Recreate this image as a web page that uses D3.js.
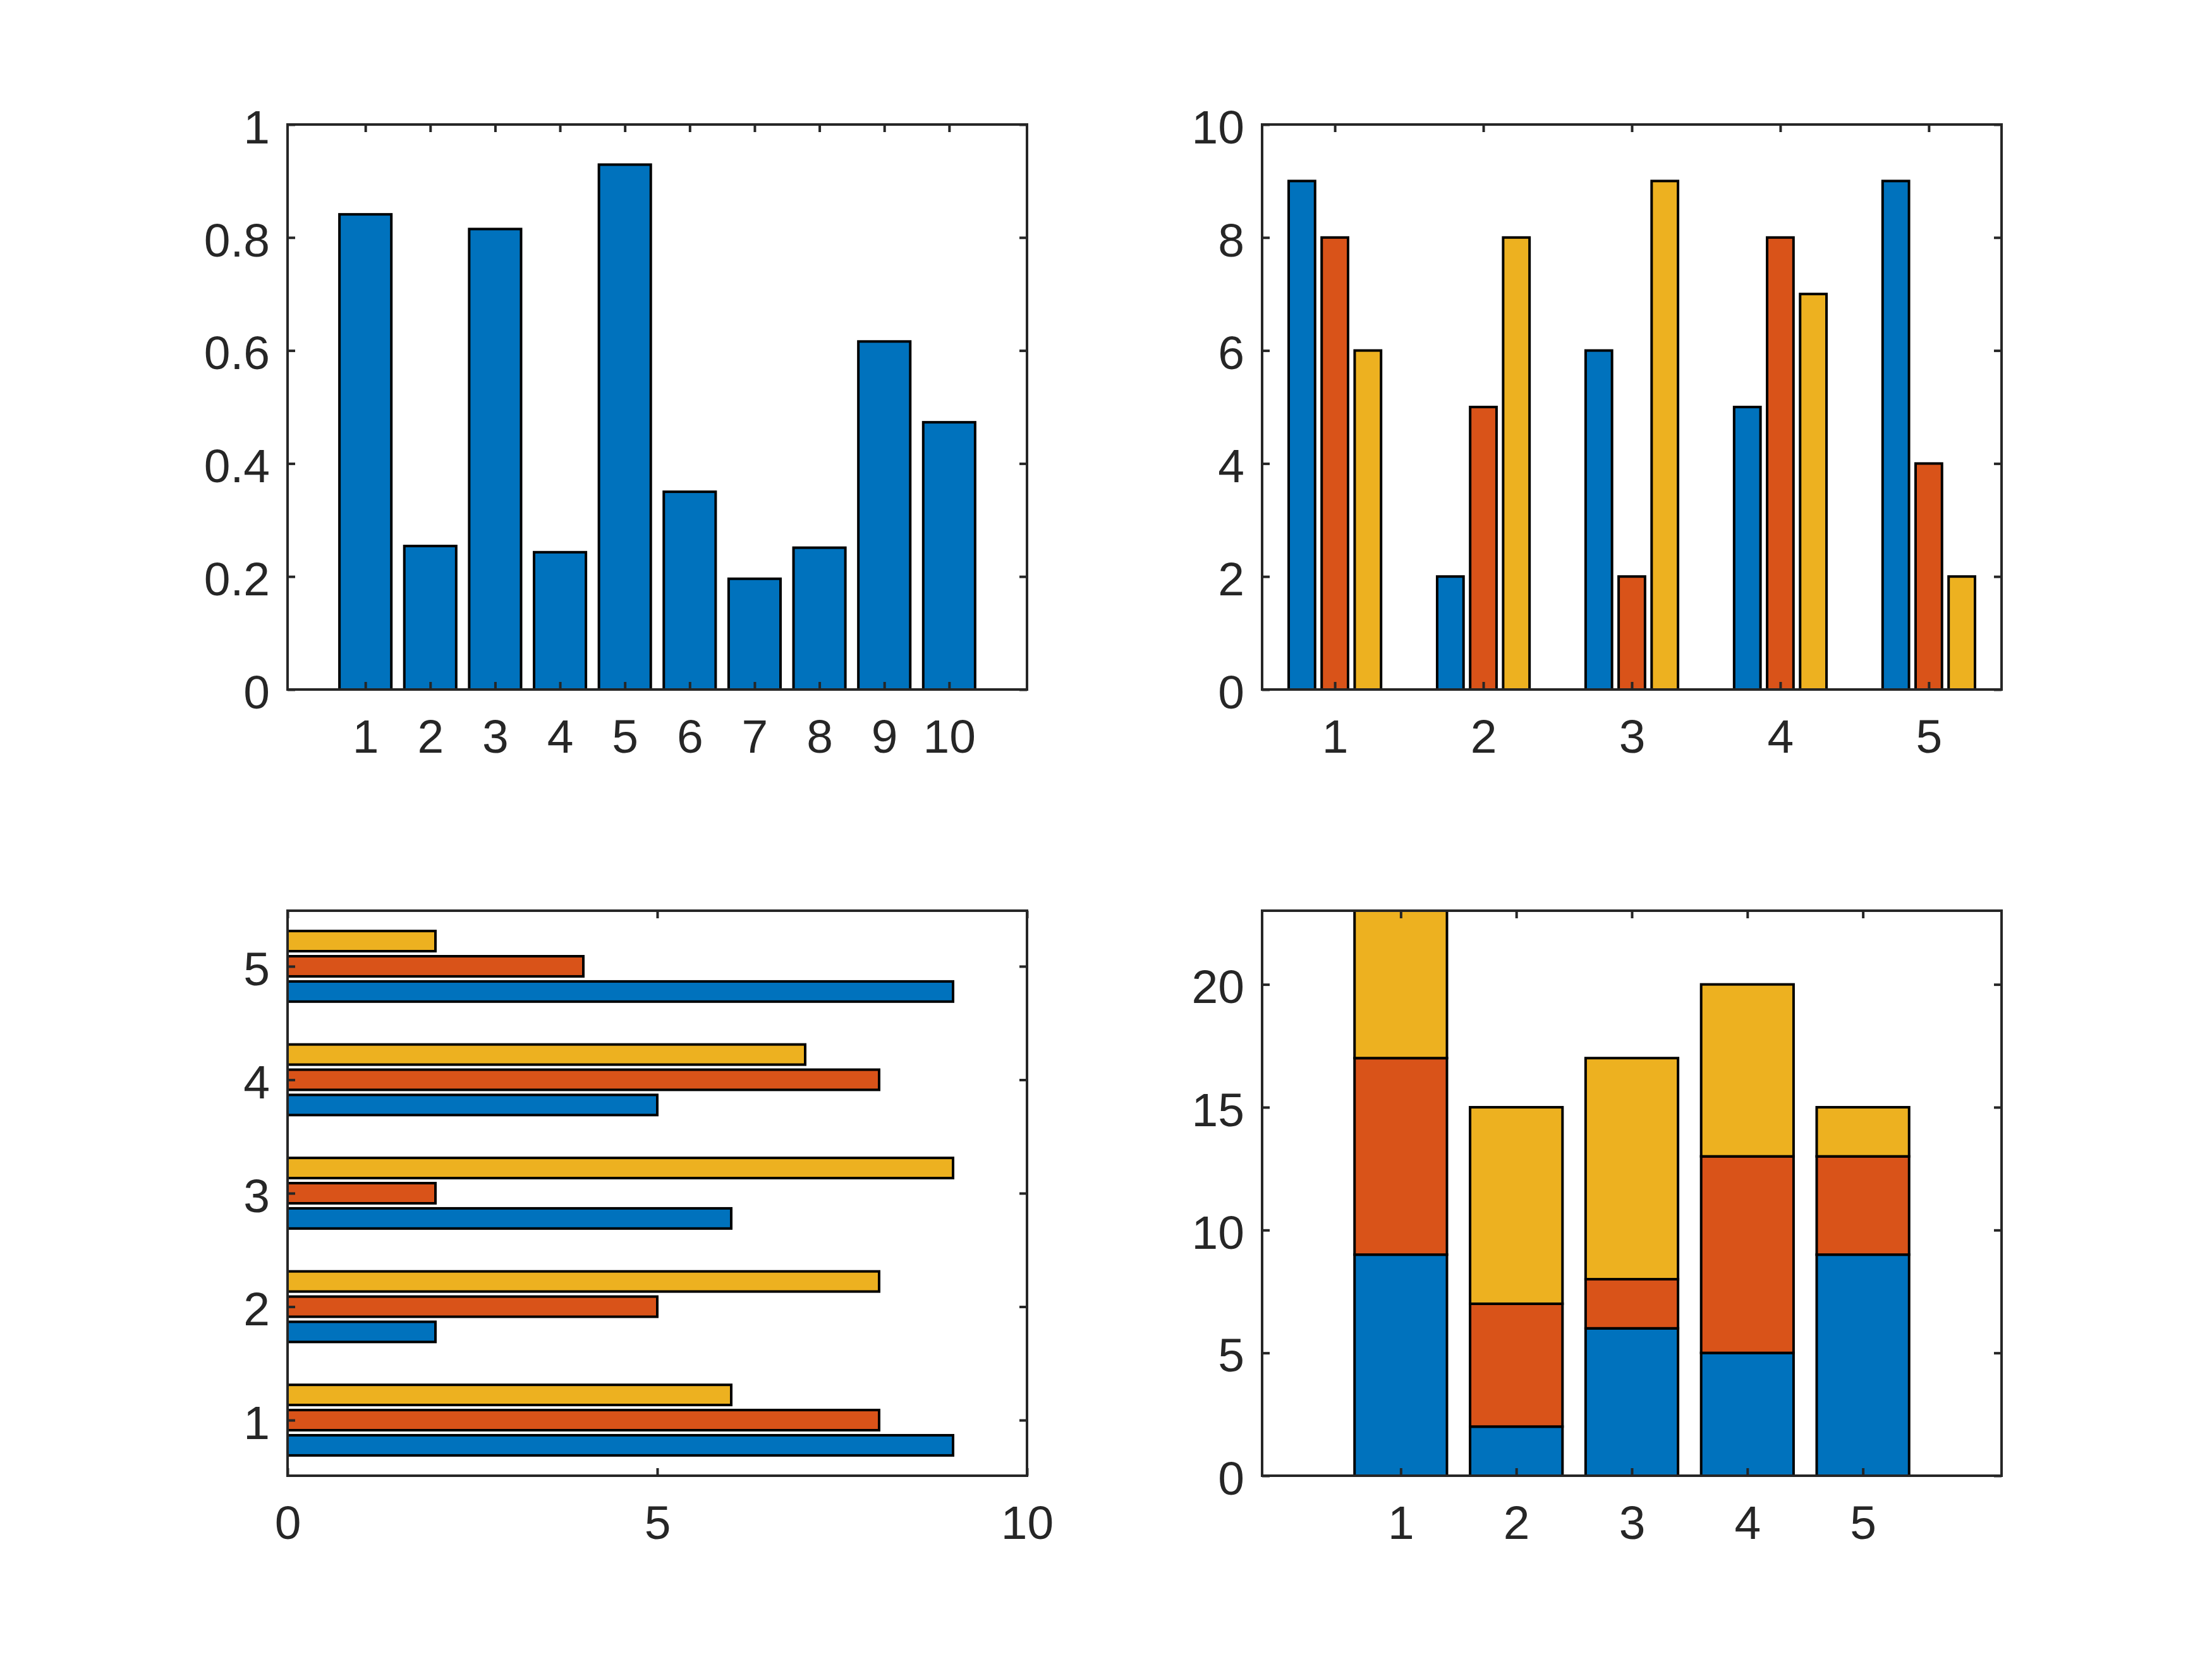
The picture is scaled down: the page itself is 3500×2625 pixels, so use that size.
<!DOCTYPE html>
<html>
<head>
<meta charset="utf-8">
<script src="https://cdn.jsdelivr.net/npm/d3@7"></script>
<style>
  html, body { margin: 0; padding: 0; background: #ffffff; }
  svg { display: block; }
</style>
</head>
<body>
<svg id="fig" width="3500" height="2625"></svg>
<script>
// ---------------- data ----------------
const singleCategories = [1, 2, 3, 4, 5, 6, 7, 8, 9, 10];
const singleValues = [0.841, 0.254, 0.815, 0.243, 0.929, 0.350, 0.196, 0.251, 0.616, 0.473];

const groupCategories = [1, 2, 3, 4, 5];
const series1 = [9, 2, 6, 5, 9];
const series2 = [8, 5, 2, 8, 4];
const series3 = [6, 8, 9, 7, 2];
const seriesColors = ["#0072BD", "#D95319", "#EDB120"];

const tlXTicks = [1, 2, 3, 4, 5, 6, 7, 8, 9, 10];
const tlYTicks = [0, 0.2, 0.4, 0.6, 0.8, 1];
const trXTicks = [1, 2, 3, 4, 5];
const trYTicks = [0, 2, 4, 6, 8, 10];
const blXTicks = [0, 5, 10];
const blYTicks = [1, 2, 3, 4, 5];
const brXTicks = [1, 2, 3, 4, 5];
const brYTicks = [0, 5, 10, 15, 20];

// ---------------- layout / style ----------------
const AX_COLOR = "#262626";
const FONT = "'Liberation Sans', Arial, Helvetica, sans-serif";
const FONT_SIZE = 75;
const LW = 4;
const TICK = 12;

const svg = d3.select("#fig");
svg.append("rect").attr("width", 3500).attr("height", 2625).attr("fill", "#ffffff");

const cols = [455, 1997];
const rows = [197, 1441];
const W = 1170, H = 894;

function makePanel(x0, y0, xDomain, yDomain) {
  const x = d3.scaleLinear().domain(xDomain).range([x0, x0 + W]);
  const y = d3.scaleLinear().domain(yDomain).range([y0 + H, y0]);
  const g = svg.append("g");
  return { x, y, g, x0, y0 };
}

function fmt(d) { return String(d); }

function drawAxes(p, xTicks, yTicks) {
  const { x, y, g, x0, y0 } = p;
  const styleAxis = (sel, keepText, dy) => {
    sel.select(".domain").remove();
    sel.selectAll(".tick line").attr("stroke", AX_COLOR).attr("stroke-width", LW);
    if (keepText) {
      sel.selectAll(".tick text")
        .attr("fill", AX_COLOR)
        .style("font-family", FONT)
        .style("font-size", FONT_SIZE + "px");
      if (dy) sel.selectAll(".tick text").attr("dy", dy);
    } else {
      sel.selectAll(".tick text").remove();
    }
  };
  g.append("g").attr("transform", `translate(0,${y0 + H})`)
    .call(d3.axisBottom(x).tickValues(xTicks).tickSizeInner(-TICK).tickSizeOuter(0).tickPadding(47).tickFormat(fmt))
    .call(s => styleAxis(s, true));
  g.append("g").attr("transform", `translate(0,${y0})`)
    .call(d3.axisTop(x).tickValues(xTicks).tickSizeInner(-TICK).tickSizeOuter(0).tickFormat(""))
    .call(s => styleAxis(s, false));
  g.append("g").attr("transform", `translate(${x0},0)`)
    .call(d3.axisLeft(y).tickValues(yTicks).tickSizeInner(-TICK).tickSizeOuter(0).tickPadding(28).tickFormat(fmt))
    .call(s => styleAxis(s, true, "0.39em"));
  g.append("g").attr("transform", `translate(${x0 + W},0)`)
    .call(d3.axisRight(y).tickValues(yTicks).tickSizeInner(-TICK).tickSizeOuter(0).tickFormat(""))
    .call(s => styleAxis(s, false));
  g.append("rect")
    .attr("x", x0).attr("y", y0).attr("width", W).attr("height", H)
    .attr("fill", "none").attr("stroke", AX_COLOR).attr("stroke-width", LW);
}

const allSeries = [series1, series2, series3];
const groupWidth = Math.min(0.8, 3 / (3 + 1.5));
const offStep = groupWidth / 3;
const subWidth = offStep * 0.8;

// ---------- Top-left: simple bar ----------
{
  const p = makePanel(cols[0], rows[0], [-0.2, 11.2], [0, 1]);
  const bw = 0.8;
  p.g.selectAll("rect.bar").data(singleCategories.map((c, i) => ({ c, v: singleValues[i] })))
    .enter().append("rect").attr("class", "bar")
    .attr("x", d => p.x(d.c - bw / 2))
    .attr("width", d => p.x(d.c + bw / 2) - p.x(d.c - bw / 2))
    .attr("y", d => p.y(d.v))
    .attr("height", d => p.y(0) - p.y(d.v))
    .attr("fill", seriesColors[0]).attr("stroke", "#000").attr("stroke-width", LW);
  drawAxes(p, tlXTicks, tlYTicks);
}

// ---------- Top-right: grouped bar ----------
{
  const p = makePanel(cols[1], rows[0], [0.51, 5.49], [0, 10]);
  allSeries.forEach((s, si) => {
    const off = (si - 1) * offStep;
    p.g.selectAll(null).data(groupCategories.map((c, i) => ({ c, v: s[i] })))
      .enter().append("rect")
      .attr("x", d => p.x(d.c + off - subWidth / 2))
      .attr("width", d => p.x(d.c + off + subWidth / 2) - p.x(d.c + off - subWidth / 2))
      .attr("y", d => p.y(d.v))
      .attr("height", d => p.y(0) - p.y(d.v))
      .attr("fill", seriesColors[si]).attr("stroke", "#000").attr("stroke-width", LW);
  });
  drawAxes(p, trXTicks, trYTicks);
}

// ---------- Bottom-left: grouped horizontal bar ----------
{
  const p = makePanel(cols[0], rows[1], [0, 10], [0.51, 5.49]);
  allSeries.forEach((s, si) => {
    const off = (si - 1) * offStep;
    p.g.selectAll(null).data(groupCategories.map((c, i) => ({ c, v: s[i] })))
      .enter().append("rect")
      .attr("y", d => p.y(d.c + off + subWidth / 2))
      .attr("height", d => p.y(d.c + off - subWidth / 2) - p.y(d.c + off + subWidth / 2))
      .attr("x", d => p.x(0))
      .attr("width", d => p.x(d.v) - p.x(0))
      .attr("fill", seriesColors[si]).attr("stroke", "#000").attr("stroke-width", LW);
  });
  drawAxes(p, blXTicks, blYTicks);
}

// ---------- Bottom-right: stacked bar ----------
{
  const p = makePanel(cols[1], rows[1], [-0.2, 6.2], [0, 23]);
  const bw = 0.8;
  const table = groupCategories.map((c, i) => ({ c, s0: series1[i], s1: series2[i], s2: series3[i] }));
  const stack = d3.stack().keys(["s0", "s1", "s2"])(table);
  stack.forEach((layer, si) => {
    p.g.selectAll(null).data(layer).enter().append("rect")
      .attr("x", d => p.x(d.data.c - bw / 2))
      .attr("width", d => p.x(d.data.c + bw / 2) - p.x(d.data.c - bw / 2))
      .attr("y", d => p.y(d[1]))
      .attr("height", d => p.y(d[0]) - p.y(d[1]))
      .attr("fill", seriesColors[si]).attr("stroke", "#000").attr("stroke-width", LW);
  });
  drawAxes(p, brXTicks, brYTicks);
}
</script>
</body>
</html>
